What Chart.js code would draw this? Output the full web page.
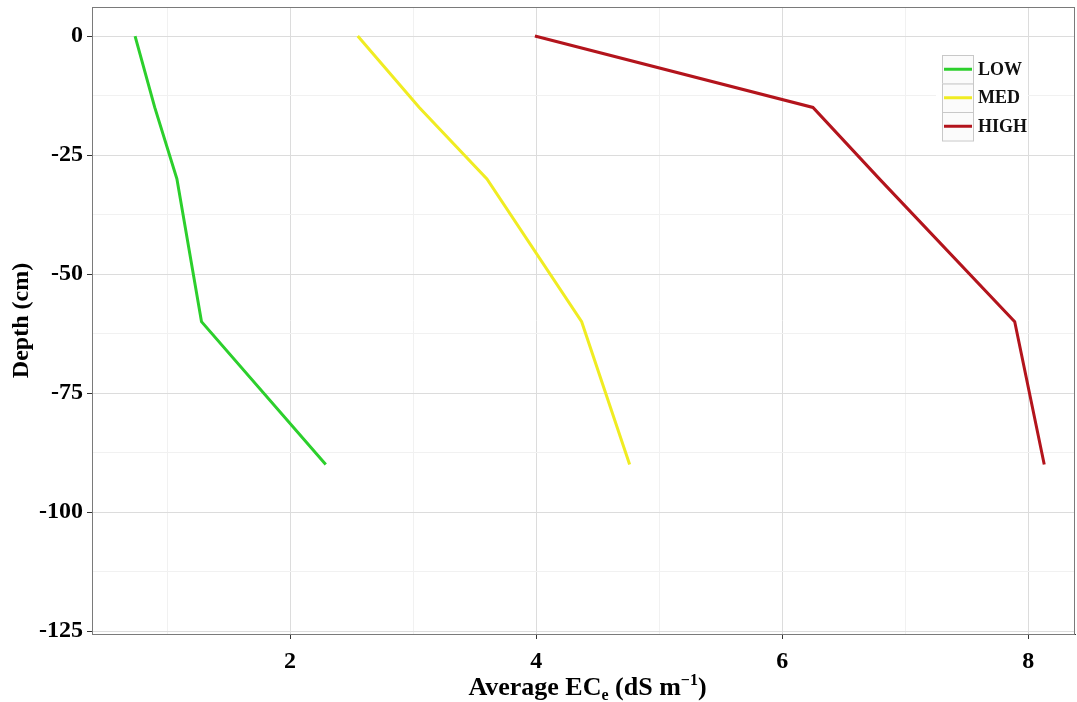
<!DOCTYPE html>
<html>
<head>
<meta charset="utf-8">
<script src="https://cdn.jsdelivr.net/npm/chart.js@4/dist/chart.umd.min.js"></script>
<style>
    html, body { margin: 0; padding: 0; background: #ffffff; }
    #wrap { width: 1077px; height: 702px; position: relative; }
</style>
</head>
<body>
<div id="wrap"><canvas id="ecChart"></canvas></div>
<script>
// ---------- DATA ----------
const depths = [0, -15, -30, -60, -90];
const lowEC = [0.74, 0.90, 1.08, 1.28, 2.29];
const medEC = [2.55, 3.05, 3.60, 4.37, 4.76];
const highEC = [3.99, 6.25, 6.79, 7.89, 8.13];

const seriesNames = ["LOW", "MED", "HIGH"];
const seriesColors = ["#2ccf2c", "#f0ec22", "#b3141c"];

const xMajorTicks = [2, 4, 6, 8];
const xMinorTicks = [1, 3, 5, 7];
const yMajorTicks = [0, -25, -50, -75, -100, -125];
const yMinorTicks = [-12.5, -37.5, -62.5, -87.5, -112.5];

const serif = "'Liberation Serif', 'Times New Roman', serif";

function toPoints(xs) {
    return xs.map((v, i) => ({ x: v, y: depths[i] }));
}

function isMajor(list, v) {
    return list.some(t => Math.abs(t - v) < 1e-6);
}

// ---------- TITLES, BORDER, LEGEND ----------
const decorPlugin = {
    id: "decor",
    beforeDatasetsDraw(chart) {
        const { ctx, chartArea } = chart;
        ctx.save();
        ctx.strokeStyle = "#7a7a7a";
        ctx.lineWidth = 1;
        ctx.strokeRect(chartArea.left + 0.5, chartArea.top + 0.5,
            chartArea.right - chartArea.left - 1, chartArea.bottom - chartArea.top);
        ctx.restore();
    },
    afterDraw(chart) {
        const { ctx, chartArea } = chart;
        ctx.save();

        // y title
        ctx.fillStyle = "#000";
        ctx.font = "bold 24px " + serif;
        ctx.textAlign = "center";
        ctx.textBaseline = "middle";
        ctx.translate(22, (chartArea.top + chartArea.bottom) / 2);
        ctx.rotate(-Math.PI / 2);
        ctx.fillText("Depth (cm)", 0, 0);
        ctx.setTransform(1, 0, 0, 1, 0, 0);

        // x title with subscript / superscript
        const parts = [
            { t: "Average EC", size: 26, dy: 0 },
            { t: "e", size: 16, dy: 5 },
            { t: " (dS m", size: 26, dy: 0 },
            { t: "\u22121", size: 16, dy: -10 },
            { t: ")", size: 26, dy: 0 }
        ];
        ctx.textAlign = "left";
        ctx.textBaseline = "alphabetic";
        let total = 0;
        parts.forEach(p => {
            ctx.font = "bold " + p.size + "px " + serif;
            p.w = ctx.measureText(p.t).width;
            total += p.w;
        });
        let x = (chartArea.left + chartArea.right) / 2 + 4 - total / 2;
        const base = 695;
        parts.forEach(p => {
            ctx.font = "bold " + p.size + "px " + serif;
            ctx.fillText(p.t, x, base + p.dy);
            x += p.w;
        });

        // legend
        const keyX = 942, keyY = 55, keyW = 31, keyH = 28.5;
        ctx.fillStyle = "#ffffff";
        ctx.fillRect(936, 50, 92, 96);
        ctx.font = "bold 18px " + serif;
        ctx.textBaseline = "middle";
        seriesNames.forEach((name, i) => {
            const y = keyY + i * keyH;
            ctx.fillStyle = "#fbfbfb";
            ctx.fillRect(keyX, y, keyW, keyH);
            ctx.strokeStyle = "#c8c8c8";
            ctx.lineWidth = 1;
            ctx.strokeRect(keyX + 0.5, y + 0.5, keyW, keyH);
            ctx.strokeStyle = seriesColors[i];
            ctx.lineWidth = 3;
            ctx.beginPath();
            ctx.moveTo(keyX + 2, y + keyH / 2);
            ctx.lineTo(keyX + keyW - 1, y + keyH / 2);
            ctx.stroke();
            ctx.fillStyle = "#111";
            ctx.fillText(name, keyX + keyW + 5, y + keyH / 2 + 1);
        });

        ctx.restore();
    }
};

// ---------- LINE CHART ----------
const ctx = document.getElementById("ecChart").getContext("2d");
new Chart(ctx, {
    type: "line",
    data: {
        datasets: [lowEC, medEC, highEC].map((vals, i) => ({
            label: seriesNames[i],
            data: toPoints(vals),
            borderColor: seriesColors[i],
            backgroundColor: seriesColors[i],
            borderWidth: 3,
            pointRadius: 0,
            tension: 0,
            fill: false
        }))
    },
    options: {
        responsive: true,
        maintainAspectRatio: false,
        animation: false,
        layout: { padding: { top: 7, right: 2, left: 0, bottom: 0 } },
        plugins: {
            legend: { display: false },
            tooltip: { enabled: false }
        },
        scales: {
            x: {
                type: "linear",
                min: 0.39,
                max: 8.38,
                afterFit(scale) {
                    scale.height = 68;
                    scale.paddingLeft = 0;
                    scale.paddingRight = 0;
                },
                afterBuildTicks(scale) {
                    scale.ticks = xMinorTicks.concat(xMajorTicks)
                        .sort((a, b) => a - b).map(v => ({ value: v }));
                },
                border: { display: true, color: "#333", width: 1 },
                grid: {
                    color: c => isMajor(xMajorTicks, c.tick.value) ? "#dcdcdc" : "#f1f1f1",
                    tickColor: c => isMajor(xMajorTicks, c.tick.value) ? "#333" : "rgba(0,0,0,0)",
                    tickLength: 5,
                    lineWidth: 1
                },
                ticks: {
                    color: "#000",
                    padding: 8,
                    maxRotation: 0,
                    autoSkip: false,
                    font: { family: serif, size: 24, weight: "bold" },
                    callback: v => isMajor(xMajorTicks, v) ? String(v) : ""
                }
            },
            y: {
                type: "linear",
                min: -125.6,
                max: 6.1,
                afterFit(scale) {
                    scale.width = 92;
                    scale.paddingTop = 0;
                    scale.paddingBottom = 0;
                },
                afterBuildTicks(scale) {
                    scale.ticks = yMajorTicks.concat(yMinorTicks)
                        .sort((a, b) => a - b).map(v => ({ value: v }));
                },
                border: { display: true, color: "#333", width: 1 },
                grid: {
                    color: c => isMajor(yMajorTicks, c.tick.value) ? "#dcdcdc" : "#f1f1f1",
                    tickColor: c => isMajor(yMajorTicks, c.tick.value) ? "#333" : "rgba(0,0,0,0)",
                    tickLength: 5,
                    lineWidth: 1
                },
                ticks: {
                    color: "#000",
                    padding: 4,
                    autoSkip: false,
                    font: { family: serif, size: 24, weight: "bold" },
                    callback: v => isMajor(yMajorTicks, v) ? String(v) : ""
                }
            }
        }
    },
    plugins: [decorPlugin]
});
</script>
</body>
</html>
